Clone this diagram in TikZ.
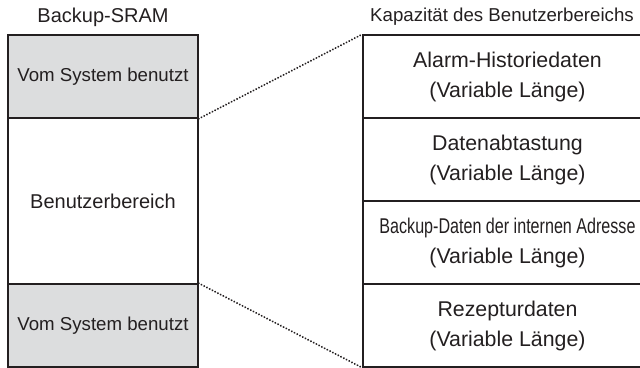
\documentclass[tikz,border=0pt]{standalone}
\usepackage{fontspec}
\setmainfont{Liberation Sans}
\usepackage{graphicx}
\definecolor{sysgray}{HTML}{DCDDDE}
\definecolor{ink}{HTML}{231F20}
\begin{document}
\begin{tikzpicture}[x=0.75pt,y=-0.75pt,
  cellL/.style={draw=ink, line width=1.1pt, rectangle, minimum width=142.5pt, minimum height=62.25pt, inner sep=0pt, align=center, font=\fontsize{14}{21}\selectfont, text=ink},
  cellR/.style={draw=ink, line width=1.1pt, rectangle, minimum width=216.75pt, minimum height=62.25pt, inner sep=0pt, align=center, font=\fontsize{16}{22.5}\selectfont, text=ink},
  title/.style={font=\fontsize{14}{16}\selectfont, text=ink, inner sep=0pt},
  link/.style={draw=ink, line width=1.6pt, dash pattern=on 0.01pt off 2.3pt, line cap=round}]
\useasboundingbox (0,0) rectangle (640,368);
\clip (0,0) rectangle (640,368);
% left column
\node[cellL, fill=sysgray] (sys1) at (103,76.5) {Vom System benutzt};
\node[cellL, minimum height=124.5pt, font=\fontsize{15}{18}\selectfont] (user) at (103,201) {Benutzerbereich};
\node[cellL, fill=sysgray] (sys2) at (103,325.5) {Vom System benutzt};
\node[title, font=\fontsize{15}{16}\selectfont] (tl) at (103,17) {Backup-SRAM};
% right column
\node[cellR] (alarm) at (507.5,76.5) {Alarm-Historiedaten\\(Variable Länge)};
\node[cellR] (daten) at (507.5,159.5) {Datenabtastung\\(Variable Länge)};
\node[cellR] (backup) at (507.5,242.5) {\scalebox{0.755}[1]{Backup-Daten der internen Adresse}\\(Variable Länge)};
\node[cellR] (rez) at (507.5,325.5) {Rezepturdaten\\(Variable Länge)};
\node[title] (tr) at (502,17) {Kapazität des Benutzerbereichs};
% connectors
\draw[link] (sys1.south east) -- (alarm.north west);
\draw[link] (sys2.north east) -- (rez.south west);
\end{tikzpicture}
\end{document}
